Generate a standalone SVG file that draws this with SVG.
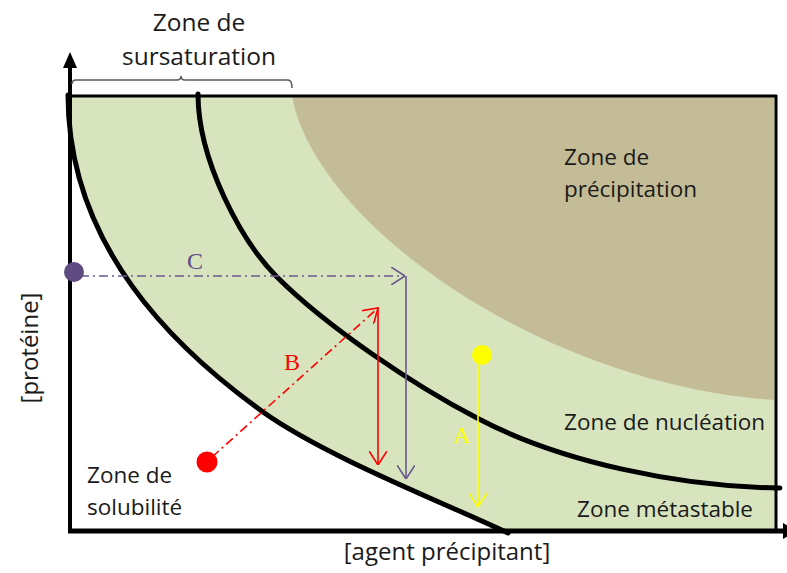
<svg xmlns="http://www.w3.org/2000/svg" width="787" height="573" viewBox="0 0 787 573">
<style>
.lbl{font-family:"Open Sans","Liberation Sans",sans-serif;font-size:22.5px;fill:#1a1a1a}
.top{font-size:24.5px}
.ax{font-size:24px}
.let{font-family:"Liberation Serif","DejaVu Serif",serif;font-size:24px}
.curve{fill:none;stroke:#000;stroke-width:5;stroke-linecap:round}
.dash{stroke-dasharray:9 4 2 4}
</style>
<defs>
<marker id="hp" viewBox="0 0 14 18" refX="14" refY="9" markerWidth="14" markerHeight="18" markerUnits="userSpaceOnUse" orient="auto"><path d="M0,0 L14,9 L0,18" fill="none" stroke="#6a5a8e" stroke-width="1.6"/></marker>
<marker id="hr" viewBox="0 0 14 18" refX="14" refY="9" markerWidth="14" markerHeight="18" markerUnits="userSpaceOnUse" orient="auto"><path d="M0,0 L14,9 L0,18" fill="none" stroke="#ff0000" stroke-width="1.6"/></marker>
<marker id="hy" viewBox="0 0 14 18" refX="14" refY="9" markerWidth="14" markerHeight="18" markerUnits="userSpaceOnUse" orient="auto"><path d="M0,0 L14,9 L0,18" fill="none" stroke="#ffff00" stroke-width="1.6"/></marker>
</defs>
<rect width="787" height="573" fill="#fff"/>
<g id="zones">
<rect x="70" y="96" width="706" height="435" fill="#d7e4bd"/>
<path d="M292,96 C315,225 545,385 774,400 L774,96 Z" fill="#c4bc96"/>
<path d="M70,96 L68,96 C68,246 174,348 263,412 C328,458 445,503 508,533 L70,534 Z" fill="#fff"/>
</g>
<g id="frame">
<line x1="68" y1="96" x2="777" y2="96" stroke="#000" stroke-width="3"/>
<line x1="776" y1="95" x2="776" y2="531" stroke="#000" stroke-width="3"/>
</g>
<g id="curves">
<path class="curve" d="M68,95 C68,246 174,348 263,412 C328,458 445,503 508,533"/>
<path class="curve" d="M198,94 C198,160 241,241 277,277 C327,327 415,386 477,418 C560,462 680,487 780,488"/>
</g>
<g id="axes">
<line x1="70" y1="64" x2="70" y2="533" stroke="#000" stroke-width="4"/>
<polygon points="70,52 63,68 77,68" fill="#000"/>
<line x1="68" y1="531" x2="786" y2="531" stroke="#000" stroke-width="5"/>
<polygon points="783,523 797,531 783,539" fill="#000"/>
<text class="lbl ax" x="447" y="560" text-anchor="middle">[agent précipitant]</text>
<text class="lbl ax" transform="translate(38,348) rotate(-90)" text-anchor="middle">[protéine]</text>
</g>
<g id="bracket">
<path d="M72,84 Q72,80 76,80 L177,80 Q181,80 181,76 Q181,80 185,80 L288,80 Q292,80 292,88" fill="none" stroke="#595959" stroke-width="1.6"/>
<text class="lbl top" x="199" y="31" text-anchor="middle">Zone de</text>
<text class="lbl top" x="199" y="65" text-anchor="middle">sursaturation</text>
</g>
<g id="zone-precipitation"><text class="lbl" x="564" y="165">Zone de</text><text class="lbl" x="564" y="197">précipitation</text></g>
<g id="zone-nucleation"><text class="lbl" x="564" y="430">Zone de nucléation</text></g>
<g id="zone-metastable"><text class="lbl" x="577" y="517">Zone métastable</text></g>
<g id="zone-solubilite"><text class="lbl" x="87" y="483">Zone de</text><text class="lbl" x="87" y="515">solubilité</text></g>
<g id="connectors">
<line class="dash" x1="80" y1="276" x2="405" y2="276" stroke="#6a5a8e" stroke-width="1.6" marker-end="url(#hp)"/>
<line x1="406" y1="276" x2="406" y2="479" stroke="#6a5a8e" stroke-width="1.6" marker-end="url(#hp)"/>
<line class="dash" x1="212" y1="457" x2="378" y2="308" stroke="#ff0000" stroke-width="1.6" marker-end="url(#hr)"/>
<line x1="378" y1="307" x2="378" y2="465" stroke="#ff0000" stroke-width="1.6" marker-end="url(#hr)"/>
<line x1="478" y1="360" x2="478" y2="507" stroke="#ffff00" stroke-width="1.6" marker-end="url(#hy)"/>
</g>
<g id="point-C"><circle cx="74" cy="272" r="10" fill="#5f4b80"/><text class="let" x="195" y="269" text-anchor="middle" fill="#5f4b8b">C</text></g>
<g id="point-B"><circle cx="207" cy="462" r="10.5" fill="#ff0000"/><text class="let" x="292" y="370" text-anchor="middle" fill="#ff0000">B</text></g>
<g id="point-A"><circle cx="482" cy="355" r="10" fill="#ffff00"/><text class="let" x="462" y="443" text-anchor="middle" fill="#ffff00">A</text></g>
</svg>
